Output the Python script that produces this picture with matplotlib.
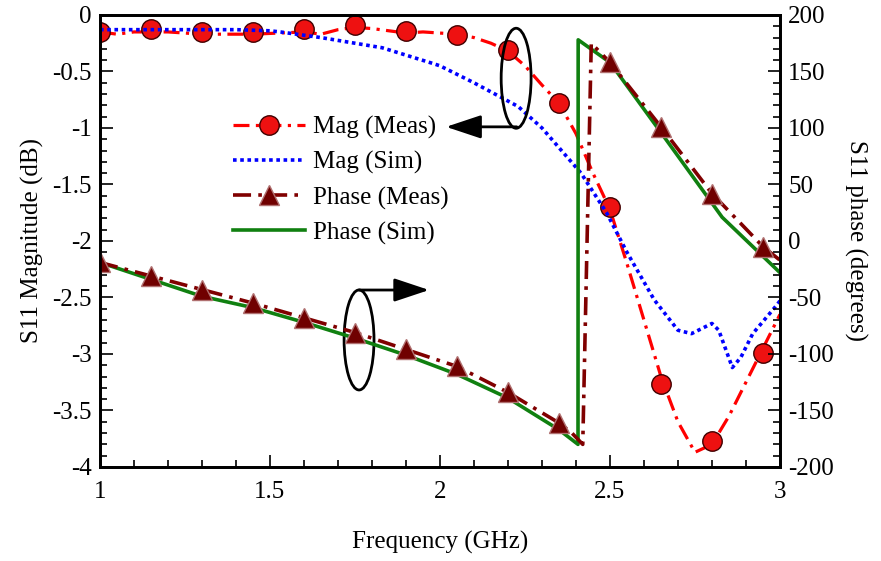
import matplotlib
matplotlib.use("Agg")
import matplotlib.pyplot as plt
from matplotlib.patches import Ellipse
from matplotlib.ticker import MultipleLocator

plt.rcParams['font.family'] = ['Liberation Serif', 'DejaVu Serif']
plt.rcParams['font.size'] = 18

# magnitude, measured: markers and the line through them
mag_meas_f = [1.0, 1.15, 1.3, 1.45, 1.6, 1.75, 1.9, 2.05, 2.2, 2.35, 2.5, 2.65, 2.8, 2.95]
mag_meas_db = [-0.15, -0.12, -0.15, -0.15, -0.12, -0.09, -0.14, -0.18, -0.31, -0.78,
               -1.70, -3.27, -3.77, -2.99]
mag_line_f = [1.0, 1.05, 1.1, 1.15, 1.2, 1.3, 1.45, 1.6, 1.65, 1.7, 1.75, 1.8, 1.85, 1.9,
              1.95, 2.0, 2.05, 2.1, 2.15, 2.2, 2.25, 2.3, 2.35, 2.4, 2.45, 2.5, 2.55, 2.6,
              2.65, 2.7, 2.75, 2.8, 2.85, 2.9, 2.95, 3.0]
mag_line_db = [-0.15, -0.17, -0.15, -0.15, -0.15, -0.17, -0.17, -0.15, -0.17, -0.13, -0.11,
               -0.12, -0.14, -0.16, -0.15, -0.16, -0.17, -0.2, -0.25, -0.32, -0.45, -0.62,
               -0.78, -1.05, -1.4, -1.72, -2.2, -2.7, -3.2, -3.6, -3.87, -3.8, -3.55, -3.25,
               -2.95, -2.65]

# magnitude, simulated
mag_sim_f = [1.0, 1.2, 1.4, 1.5, 1.53, 1.65, 1.83, 1.98, 2.0, 2.1, 2.23, 2.3, 2.415, 2.49,
             2.55, 2.63, 2.70, 2.74, 2.80, 2.82, 2.86, 2.885, 2.92, 2.99, 3.0]
mag_sim_db = [-0.13, -0.13, -0.13, -0.14, -0.15, -0.2, -0.29, -0.43, -0.45, -0.6, -0.81,
              -1.0, -1.40, -1.75, -2.1, -2.52, -2.79, -2.82, -2.73, -2.79, -3.12, -3.03,
              -2.82, -2.57, -2.53]

# phase, measured: markers and line
ph_meas_f = [1.0, 1.15, 1.3, 1.45, 1.6, 1.75, 1.9, 2.05, 2.2, 2.35, 2.5, 2.65, 2.8, 2.95]
ph_meas_deg = [-19, -31, -43, -55, -68, -81, -96, -111, -134, -161, 158, 101, 42, -5]
ph_line_f = [1.0, 1.15, 1.3, 1.45, 1.6, 1.75, 1.9, 2.05, 2.2, 2.35, 2.385, 2.42, 2.445,
             2.5, 2.65, 2.8, 2.95, 3.0]
ph_line_deg = [-19, -31, -43, -55, -68, -81, -96, -111, -134, -161, -169, -180, 175,
               158, 101, 42, -5, -17]

# phase, simulated
ph_sim_f = [1.0, 1.15, 1.3, 1.45, 1.6, 1.75, 1.9, 2.05, 2.2, 2.35, 2.406, 2.4065, 2.5,
            2.65, 2.83, 3.0]
ph_sim_deg = [-19, -34, -49, -59, -72, -86, -101, -118, -139, -167, -180, 178, 158,
              96, 21, -28]

fig = plt.figure(figsize=(8.81, 5.61), dpi=100)
ax = fig.add_axes([0.1135, 0.1676, 0.7718, 0.8057])
ax2 = ax.twinx()

l1, = ax.plot(mag_line_f, mag_line_db, color='#ff0000', lw=2.3, dashes=(5, 2, 1, 2))
m1, = ax.plot(mag_meas_f, mag_meas_db, 'o', ms=14, mfc='#ee1111', mec='#400000', mew=1)
l2, = ax.plot(mag_sim_f, mag_sim_db, color='#0000ff', lw=2.6, linestyle=(0, (1, 1)))

l4, = ax2.plot(ph_sim_f, ph_sim_deg, color='#108010', lw=2.6)
l3, = ax2.plot(ph_line_f, ph_line_deg, color='#800000', lw=2.6, dashes=(5, 2, 1, 2))
m3, = ax2.plot(ph_meas_f, ph_meas_deg, '^', ms=14, mfc='#700000', mec='#b07070', mew=1)

ax.set_xlim(1, 3)
ax.set_ylim(-4, 0)
ax2.set_ylim(-200, 200)
ax.xaxis.set_major_locator(MultipleLocator(0.5))
ax.xaxis.set_minor_locator(MultipleLocator(0.1))
ax.yaxis.set_major_locator(MultipleLocator(0.5))
ax.yaxis.set_minor_locator(MultipleLocator(0.1))
ax2.yaxis.set_major_locator(MultipleLocator(50))
ax2.yaxis.set_minor_locator(MultipleLocator(10))
ax.xaxis.set_major_formatter(plt.FuncFormatter(lambda v, p: f'{v:g}'))
ax.yaxis.set_major_formatter(plt.FuncFormatter(lambda v, p: f'{v:g}'))
ax2.yaxis.set_major_formatter(plt.FuncFormatter(lambda v, p: f'{v:g}'))

for a in (ax, ax2):
    a.tick_params(which='both', direction='in', width=1.2)
    a.tick_params(which='major', length=9)
    a.tick_params(which='minor', length=5)
    for s in a.spines.values():
        s.set_linewidth(2)
ax.tick_params(axis='x', pad=10)
ax.tick_params(axis='y', pad=6)
ax2.tick_params(axis='y', pad=6)

ax.set_xlabel('Frequency (GHz)', labelpad=20)
ax.set_ylabel('S11 Magnitude (dB)', labelpad=6)
ax2.set_ylabel('S11 phase (degrees)', rotation=270, labelpad=24)

# ellipses and arrows marking which axis each pair belongs to
ax.add_patch(Ellipse((2.224, -0.56), 0.088, 0.885, fill=False, ec='black', lw=2, zorder=5))
ax.annotate('', xy=(2.018, -0.99), xytext=(2.226, -0.99),
            arrowprops=dict(arrowstyle='-|>,head_length=1.2,head_width=0.4', color='black', lw=2,
                            shrinkA=0, shrinkB=0))
ax.add_patch(Ellipse((1.762, -2.876), 0.088, 0.885, fill=False, ec='black', lw=2, zorder=5))
ax.annotate('', xy=(1.968, -2.434), xytext=(1.762, -2.434),
            arrowprops=dict(arrowstyle='-|>,head_length=1.2,head_width=0.4', color='black', lw=2,
                            shrinkA=0, shrinkB=0))

ax2.legend([(l1, m1), l2, (l3, m3), l4],
           ['Mag (Meas)', 'Mag (Sim)', 'Phase (Meas)', 'Phase (Sim)'],
           loc='upper left', bbox_to_anchor=(0.25, 0.815), bbox_transform=fig.transFigure,
           frameon=False, handlelength=2.9, handletextpad=0.3, labelspacing=0.48,
           borderpad=0, fontsize=18)

fig.savefig('out.png', dpi=100)
